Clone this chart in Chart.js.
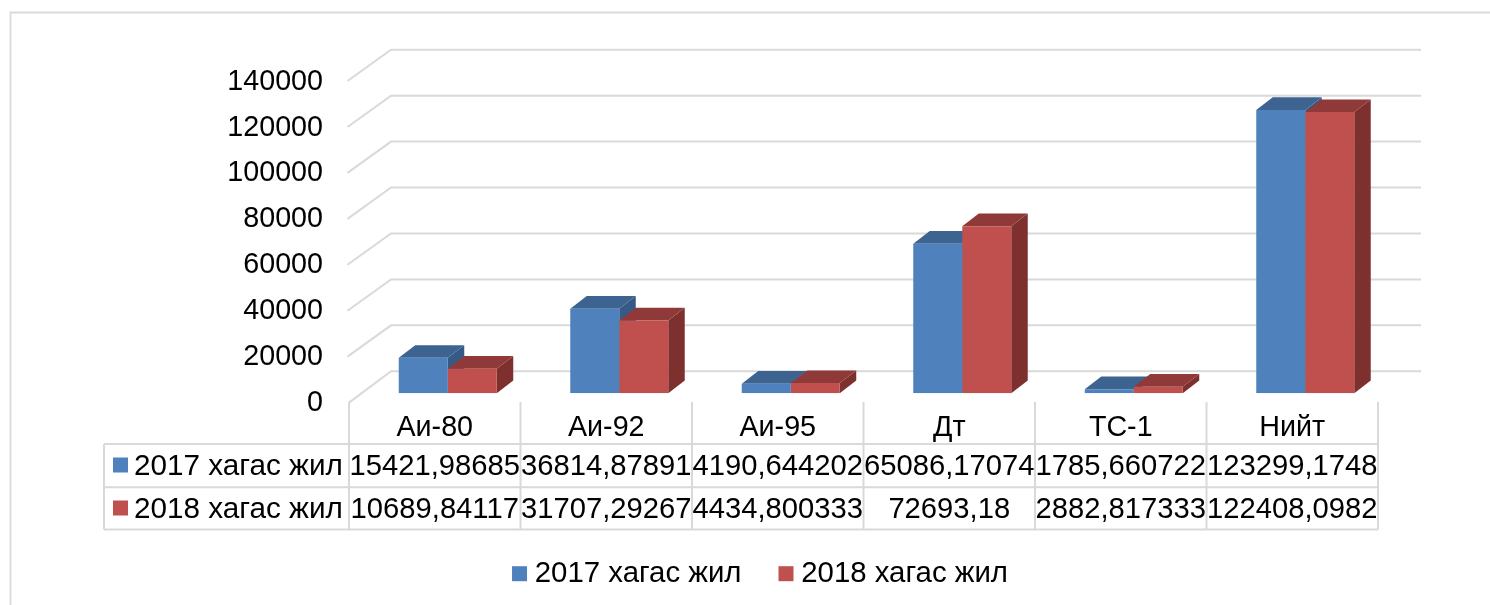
<!DOCTYPE html>
<html>
<head>
<meta charset="utf-8">
<script src="https://cdn.jsdelivr.net/npm/chart.js@4"></script>
<style>html,body{margin:0;padding:0;background:#fff;overflow:hidden}canvas{display:block}</style>
</head>
<body>
<canvas id="c" width="1490" height="605"></canvas>
<script>
const categories = ["Аи-80", "Аи-92", "Аи-95", "Дт", "ТС-1", "Нийт"];
const seriesNames = ["2017 хагас жил", "2018 хагас жил"];
const values2017 = [15421.98685, 36814.87891, 4190.644202, 65086.17074, 1785.660722, 123299.1748];
const values2018 = [10689.84117, 31707.29267, 4434.800333, 72693.18, 2882.817333, 122408.0982];
const yTickValues = [0, 20000, 40000, 60000, 80000, 100000, 120000, 140000];

const FAMILY = '"Liberation Sans", Arial, sans-serif';
const GRID = '#d9d9d9';
const BLUE = '#4f81bd', BLUE_TOP = '#3d6391', BLUE_SIDE = '#355a88';
const RED = '#c0504d', RED_TOP = '#8f3a38', RED_SIDE = '#7d302e';
const depthX = 16.5, depthY = 12.7;

function poly(ctx, pts, fill) {
  ctx.fillStyle = fill;
  ctx.beginPath();
  pts.forEach((p, i) => i ? ctx.lineTo(p[0], p[1]) : ctx.moveTo(p[0], p[1]));
  ctx.closePath();
  ctx.fill();
}

const decor = {
  id: 'decor',
  afterLayout(chart) {
    const l = chart.legend;
    l.left += 48; l.right += 48;
    l.top = 515;
  },
  beforeDatasetsDraw(chart) {
    const ctx = chart.ctx, y = chart.scales.y, x = chart.scales.x;
    ctx.save();
    ctx.strokeStyle = GRID; ctx.lineWidth = 1.8;
    ctx.beginPath(); ctx.moveTo(10.5, 605); ctx.lineTo(10.5, 12.5); ctx.lineTo(1490, 12.5); ctx.stroke();
    ctx.lineWidth = 2;
    const tableLeft = x.getPixelForValue(0) - 85.75 - 13;
    const wallLeft = 391, wallRight = 1421;
    y.ticks.forEach(t => {
      const py = y.getPixelForValue(t.value);
      ctx.beginPath();
      ctx.moveTo(t.value === 0 ? tableLeft : 347.5, py + 9.3);
      ctx.lineTo(wallLeft, py - 22);
      ctx.lineTo(wallRight, py - 22);
      ctx.stroke();
    });
    const faces = [[BLUE_TOP, BLUE_SIDE], [RED_TOP, RED_SIDE]];
    [0, 1].forEach(di => {
      chart.getDatasetMeta(di).data.forEach(b => {
        const L = b.x - b.width / 2, R = b.x + b.width / 2, T = b.y, B = b.base;
        poly(ctx, [[R, T], [R + depthX, T - depthY], [R + depthX, B - depthY], [R, B]], faces[di][1]);
        poly(ctx, [[L, T], [L + depthX, T - depthY], [R + depthX, T - depthY], [R, T]], faces[di][0]);
      });
    });
    ctx.restore();
  },
  afterDraw(chart) {
    const ctx = chart.ctx, x = chart.scales.x;
    ctx.save();
    const step = x.getPixelForValue(1) - x.getPixelForValue(0);
    const colX = i => x.getPixelForValue(i) - 13;
    const left = colX(0) - step / 2, right = colX(5) + step / 2;
    const rows = [444, 487.3, 529.5], head = 104;
    ctx.strokeStyle = GRID; ctx.lineWidth = 2;
    ctx.beginPath();
    rows.forEach(r => { ctx.moveTo(head, r); ctx.lineTo(right, r); });
    ctx.moveTo(head, rows[0]); ctx.lineTo(head, rows[2]);
    for (let i = 0; i <= categories.length; i++) {
      const vx = left + i * step;
      ctx.moveTo(vx, 402); ctx.lineTo(vx, rows[2]);
    }
    ctx.stroke();
    ctx.textBaseline = 'middle';
    [[values2017, BLUE, 466.5], [values2018, RED, 509.5]].forEach((row, ri) => {
      ctx.fillStyle = row[1];
      ctx.fillRect(113, row[2] - 9, 15, 15);
      ctx.fillStyle = '#000';
      ctx.textAlign = 'left';
      ctx.font = '29.7px ' + FAMILY;
      ctx.fillText(seriesNames[ri], 134, row[2]);
      ctx.textAlign = 'center';
      ctx.font = '29.2px ' + FAMILY;
      row[0].forEach((v, i) => ctx.fillText(String(v).replace('.', ','), colX(i), row[2]));
    });
    ctx.restore();
  }
};

new Chart(document.getElementById('c'), {
  type: 'bar',
  data: {
    labels: categories,
    datasets: [
      { label: seriesNames[0], data: values2017, backgroundColor: BLUE, pointStyle: 'rect' },
      { label: seriesNames[1], data: values2018, backgroundColor: RED, pointStyle: 'rect' }
    ]
  },
  options: {
    responsive: false,
    animation: false,
    devicePixelRatio: 1,
    layout: { padding: { left: 40, right: 99, top: 71.7, bottom: 0 } },
    categoryPercentage: 98 / 171.5,
    barPercentage: 1,
    scales: {
      x: {
        grid: { display: false, drawTicks: false },
        border: { display: false },
        afterFit: s => { s.height = 128.3; },
        ticks: { autoSkip: false, maxRotation: 0, minRotation: 0, color: '#000', font: { family: FAMILY, size: 28.7 }, padding: 18, labelOffset: -13 }
      },
      y: {
        min: 0, max: 140000,
        grid: { display: false, drawTicks: false },
        border: { display: false },
        afterFit: s => { s.width = 322; },
        afterBuildTicks: s => { s.ticks = yTickValues.map(v => ({ value: v })); },
        ticks: { color: '#000', font: { family: FAMILY, size: 28.7 }, padding: 39, labelOffset: 10, callback: v => String(v) }
      }
    },
    plugins: {
      tooltip: { enabled: false },
      title: { display: false },
      legend: {
        position: 'bottom',
        labels: {
          usePointStyle: true, boxWidth: 1, boxHeight: 15, padding: 44, color: '#000',
          font: { family: FAMILY, size: 29.4 }
        }
      }
    }
  },
  plugins: [decor]
});
</script>
</body>
</html>
